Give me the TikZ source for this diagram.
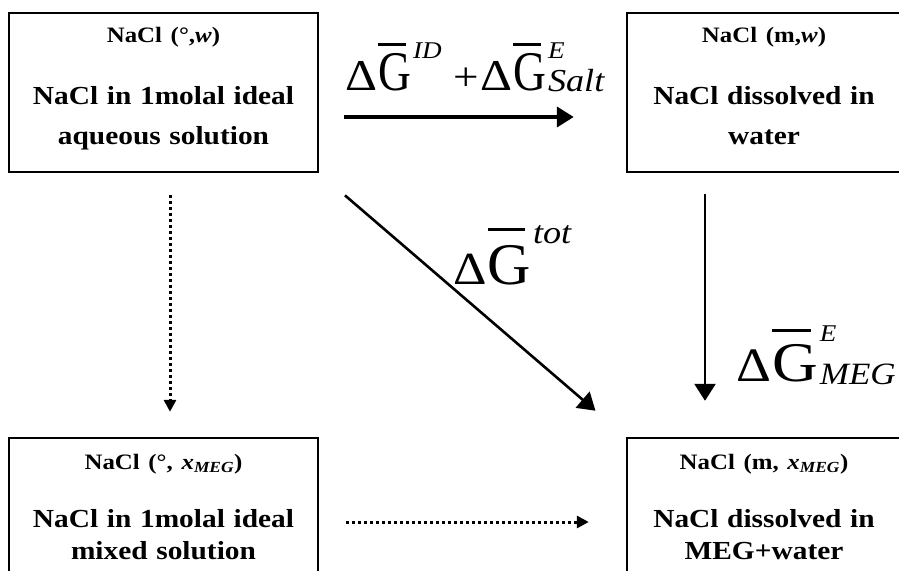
\documentclass[tikz,border=0pt]{standalone}
\usepackage{graphicx}
\usepackage{fontspec}
\setmainfont[FakeStretch=1.13]{Liberation Serif}
\usetikzlibrary{arrows.meta,positioning,calc}
\newcommand{\boxhead}[1]{{\fontsize{22}{26}\selectfont #1}}
% Delta G-bar: size of Delta, size of G, x-scale of G, raise of bar
\newcommand{\dG}[4]{{\fontsize{#1}{#1}\selectfont Δ}\kern1pt{\fontsize{#2}{#2}\selectfont
  \scalebox{#3}[1]{\rlap{\raisebox{#4}{\rule{.7em}{.055em}}}G}}\kern2pt}
\newcommand{\idx}[3]{\raisebox{#1}{\fontsize{#2}{#2}\selectfont\itshape #3}}
\newcommand{\lowstrut}{\rule[-14pt]{0pt}{14pt}}
\tikzset{
  statebox/.style={draw=black,line width=2.4pt,minimum width=309pt,text width=295pt,
    align=center,inner sep=0pt,font=\fontsize{26}{40}\selectfont\bfseries},
  topbox/.style={statebox,minimum height=159pt},
  lowbox/.style={statebox,minimum height=138pt,font=\fontsize{26}{32}\selectfont\bfseries},
  rightbox/.style={minimum width=274pt,text width=268pt},
  mainflow/.style={-{Triangle[length=17pt,width=20pt]},line width=4pt},
  pathflow/.style={-{Triangle[length=17pt,width=21pt]},line width=2.6pt},
  dotflow/.style={-{Triangle[length=12pt,width=12pt]},line width=3pt,dash pattern=on 3pt off 3pt},
  biglabel/.style={inner sep=0pt,anchor=base west}
}
\begin{document}
\begin{tikzpicture}[x=1pt,y=-1pt]
  \useasboundingbox (0,0) rectangle (899,570);
  \clip (0,0) rectangle (899,570);
  % states
  \node[topbox] (salt-w) at (163.5,92.5) {\boxhead{NaCl (°,\textit{w})}\\[22pt]NaCl in 1molal ideal\\aqueous solution\lowstrut};
  \node[topbox,rightbox] (salt-m) at (764,92.5) {\boxhead{NaCl (m,\textit{w})}\\[22pt]NaCl dissolved in\\water\lowstrut};
  \node[lowbox] (mix-w) at (163.5,507) {\boxhead{NaCl (°, \textit{x}\textsubscript{\textit{MEG}})}\\[26pt]NaCl in 1molal ideal\\mixed solution};
  \node[lowbox,rightbox] (mix-m) at (764,507) {\boxhead{NaCl (m, \textit{x}\textsubscript{\textit{MEG}})}\\[26pt]NaCl dissolved in\\MEG+water};
  % paths
  \draw[mainflow,shorten <=25pt,shorten >=52pt] ([yshift=-24.5pt]salt-w.east) --
    node[biglabel,pos=0,xshift=24pt,yshift=27pt] {\dG{44}{56}{0.72}{.79em}\idx{32pt}{24}{ID}\hspace{12pt}{\fontsize{40}{40}\selectfont +}\hspace{1pt}\dG{44}{56}{0.72}{.79em}\rlap{\idx{32pt}{24}{E}}\idx{-1pt}{32}{Salt}}
    ([yshift=-24.5pt]salt-m.west);
  \draw[pathflow,shorten <=34pt,shorten >=40pt] (salt-w.south east) --
    node[biglabel,xshift=-20.5pt,yshift=21pt] {\dG{46}{59}{0.9}{.9em}\idx{41pt}{32}{tot}}
    (mix-m.north west);
  \draw[pathflow,shorten <=21pt,shorten >=36pt] ([xshift=-59pt]salt-m.south) --
    ([xshift=-59pt]mix-m.north)
    node[biglabel,pos=1,xshift=30pt,yshift=55pt] {\dG{48}{56}{1}{.89em}\rlap{\idx{40pt}{24}{E}}\idx{-3pt}{31}{MEG}};
  \draw[dotflow,shorten <=22pt,shorten >=25pt] ([xshift=6.5pt]salt-w.south) -- ([xshift=6.5pt]mix-w.north);
  \draw[dotflow,shorten <=27pt,shorten >=37pt] ([yshift=-15pt]mix-w.east) -- ([yshift=-15pt]mix-m.west);
\end{tikzpicture}
\end{document}
